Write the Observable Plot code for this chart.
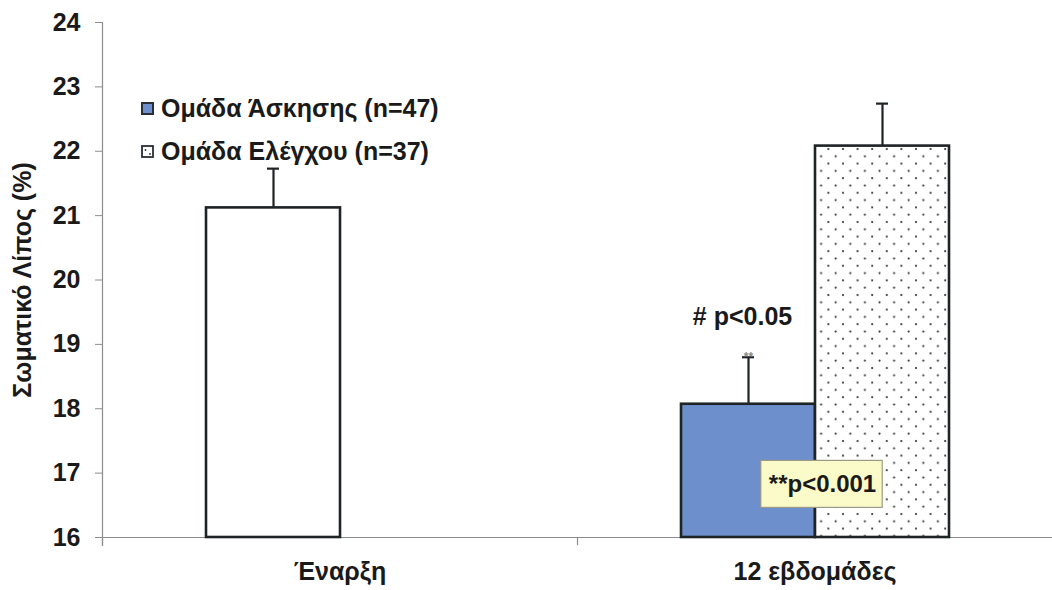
<!DOCTYPE html>
<html>
<head>
<meta charset="utf-8">
<script src="https://cdn.jsdelivr.net/npm/d3@7"></script>
<script src="https://cdn.jsdelivr.net/npm/@observablehq/plot@0.6"></script>
<style>
  html, body { margin: 0; padding: 0; background: #fff; overflow: hidden; }
  #wrap { position: relative; width: 1052px; height: 590px; }
  .legend { position: absolute; left: 141px; top: 87px; font: bold 25px "Liberation Sans", Arial, sans-serif; color: #1a1a1a; }
  .legend .row { display: flex; align-items: center; height: 43px; white-space: nowrap; }
  .legend svg { margin-right: 7px; }
</style>
</head>
<body>
<svg width="0" height="0" style="position:absolute">
  <defs>
    <pattern id="dots" patternUnits="userSpaceOnUse" width="14.6" height="14.6">
      <rect width="14.6" height="14.6" fill="#ffffff"></rect>
      <circle cx="3" cy="3" r="1.05" fill="#2a2a2a"></circle>
      <circle cx="10.3" cy="10.3" r="1.05" fill="#2a2a2a"></circle>
    </pattern>
  </defs>
</svg>
<div id="wrap">
  <div class="legend" id="legend"></div>
</div>
<script>
// ---- data ----
const categories = ["Έναρξη", "12 εβδομάδες"];
const groups = ["Ομάδα Άσκησης (n=47)", "Ομάδα Ελέγχου (n=37)"];
const barCategory = ["Έναρξη", "12 εβδομάδες", "12 εβδομάδες"];
const barGroup = [0, 0, 1];
const barValue = [21.12, 18.07, 22.08];
const barErrorUpper = [0.61, 0.73, 0.66];
const yTicks = [16, 17, 18, 19, 20, 21, 22, 23, 24];
const yLabel = "Σωματικό Λίπος (%)";
const noteText = ["# p<0.05", "**p<0.001", "**"];
const noteCategory = ["12 εβδομάδες", "12 εβδομάδες", "12 εβδομάδες"];
const noteGroup = [0, 0, 0];
const noteY = [19.42, 16.82, 18.80];

// ---- tables ----
const bars = barValue.map((v, i) => ({
  category: barCategory[i], group: groups[barGroup[i]], value: v, top: v + barErrorUpper[i]
}));
const notes = noteText.map((t, i) => ({
  text: t, category: noteCategory[i], group: groups[noteGroup[i]], y: noteY[i]
}));

const BLUE = "#6d8fcb";
const fillOf = d => d.category === categories[0] ? "#ffffff" : (d.group === groups[0] ? BLUE : "url(#dots)");
const FONT = '"Liberation Sans", Arial, sans-serif';

const chart = Plot.plot({
  width: 1052, height: 590,
  marginLeft: 102, marginRight: 0, marginTop: 22, marginBottom: 53,
  style: { fontFamily: FONT, fontWeight: "bold", fontSize: "25px", color: "#1a1a1a", background: "transparent" },
  fx: { domain: categories, padding: 0 },
  x: { domain: groups, paddingInner: 0, paddingOuter: 0.76 },
  y: { domain: [16, 24] },
  color: { type: "identity" },
  marks: [
    Plot.frame({ anchor: "bottom", stroke: "#8c8c8c", strokeWidth: 1.2 }),
    Plot.frame({ anchor: "left", stroke: "#8c8c8c", strokeWidth: 1.2, insetTop: 515, insetBottom: -7 }),
    Plot.frame({ anchor: "left", facetAnchor: "left", stroke: "#8c8c8c", strokeWidth: 1.2, insetBottom: -8 }),
    Plot.axisY({ ticks: yTicks, tickSize: 7, tickPadding: 15, tickFormat: d => String(d), stroke: "#8c8c8c", fill: "#1a1a1a",
      label: yLabel, labelAnchor: "center", labelOffset: 89, labelArrow: "none" }),
    Plot.axisFx({ anchor: "bottom", tickSize: 0, tickPadding: 25, label: null, fill: "#1a1a1a" }),
    Plot.axisX({ ticks: [], label: null, tickSize: 0 }),
    Plot.ruleX(bars, { fx: "category", x: "group", y1: "value", y2: "top", stroke: "#1e2326", strokeWidth: 2.2 }),
    Plot.tickY(bars, { fx: "category", x: "group", y: "top", stroke: "#1e2326", strokeWidth: 2.2, insetLeft: 61, insetRight: 61 }),
    Plot.barY(bars, { fx: "category", x: "group", y1: 16, y2: "value", fill: fillOf, stroke: "#1e2326", strokeWidth: 2.6 }),
    Plot.text(notes.filter(d => d.text === noteText[0]), { fx: "category", x: "group", y: "y", text: "text", dx: -6, fill: "#1a1a1a" }),
    Plot.text(notes.filter(d => d.text === noteText[2]), { fx: "category", x: "group", y: "y", text: "text", fontSize: 12, fill: "#8a8a8a" }),
    Plot.text(notes.filter(d => d.text === noteText[1]), { fx: "category", x: "group", y: "y", text: "text", dx: 74, fontSize: 24, fill: "#1a1a1a", className: "pbox" })
  ]
});
document.getElementById("wrap").prepend(chart);

// background box behind the p<0.001 annotation
const t = chart.querySelector("g.pbox text");
if (t) {
  const bb = t.getBBox();
  const g = t.parentNode;
  const tr = t.getAttribute("transform");
  const rect = document.createElementNS("http://www.w3.org/2000/svg", "rect");
  rect.setAttribute("x", bb.x - 8);
  rect.setAttribute("y", bb.y - 10);
  rect.setAttribute("width", bb.width + 14);
  rect.setAttribute("height", bb.height + 20);
  rect.setAttribute("fill", "#fbfbc9");
  rect.setAttribute("stroke", "#9a9a86");
  rect.setAttribute("stroke-width", "1.2");
  if (tr) rect.setAttribute("transform", tr);
  g.insertBefore(rect, t);
}

// legend
const legend = document.getElementById("legend");
groups.forEach((name, i) => {
  const row = document.createElement("div");
  row.className = "row";
  const sw = i === 0
    ? `<svg width="13" height="13"><rect x="1" y="1" width="11" height="11" fill="${BLUE}" stroke="#2a2f36" stroke-width="2"/></svg>`
    : `<svg width="13" height="13"><rect x="1" y="1" width="11" height="11" fill="#fff" stroke="#2a2f36" stroke-width="1.8"/><circle cx="4.5" cy="5" r="0.9" fill="#333"/><circle cx="9" cy="9" r="0.9" fill="#333"/></svg>`;
  row.innerHTML = sw + `<span>${name}</span>`;
  legend.appendChild(row);
});
</script>
</body>
</html>
